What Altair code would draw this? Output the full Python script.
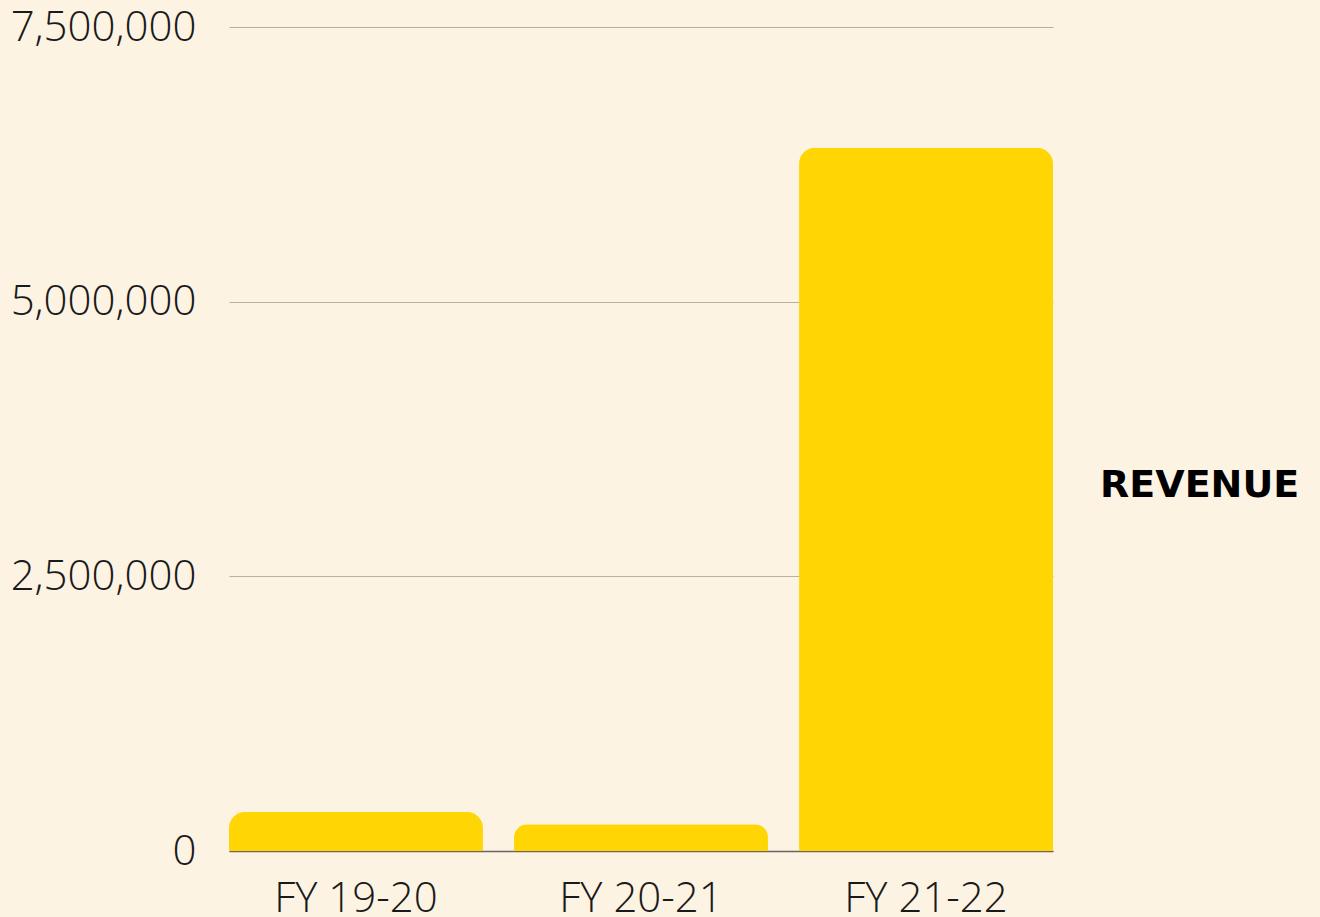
import altair as alt
import pandas as pd

years = ["FY 19-20", "FY 20-21", "FY 21-22"]
revenue = [355000, 243000, 6400000]
series = ["REVENUE", "REVENUE", "REVENUE"]

df = pd.DataFrame({"year": years, "revenue": revenue, "series": series})

bars = alt.Chart(df).mark_bar(
    cornerRadiusTopLeft=16, cornerRadiusTopRight=16
).encode(
    x=alt.X("year:N", sort=years, title=None,
            scale=alt.Scale(paddingInner=0.109, paddingOuter=0),
            axis=alt.Axis(labelAngle=0, labelFont="Open Sans", labelFontSize=42,
                          labelFontWeight=300, labelColor="#1a1a1a", labelPadding=27,
                          labelLimit=0,
                          ticks=False, domain=True, domainColor="#6b6560",
                          domainWidth=1.5, grid=False)),
    y=alt.Y("revenue:Q", title=None,
            scale=alt.Scale(domain=[0, 7500000], nice=False),
            axis=alt.Axis(values=[0, 2500000, 5000000, 7500000], format=",d",
                          labelFont="Open Sans", labelFontSize=42, labelFontWeight=300,
                          labelColor="#1a1a1a", labelPadding=33, labelLimit=0,
                          ticks=False,
                          domain=False, grid=True, gridColor="#b8b0a6", gridWidth=1.2)),
    color=alt.Color("series:N", title=None,
                    scale=alt.Scale(range=["#FFD503"]),
                    legend=alt.Legend(orient="none", legendX=833, legendY=440,
                                      labelFont="DejaVu Sans", labelFontSize=38,
                                      labelFontWeight=900, labelColor="#000000",
                                      labelLimit=0,
                                      symbolSize=0, symbolStrokeWidth=0,
                                      symbolOpacity=0, labelOffset=0)),
)

chart = bars.properties(
    width=824, height=824,
    autosize=alt.AutoSizeParams(type="none"),
    padding={"left": 229, "top": 27, "right": 267, "bottom": 66},
    background="#FDF3E3",
).configure_view(stroke=None)

chart.save("out.html", embed_options={"renderer": "svg", "actions": False})
